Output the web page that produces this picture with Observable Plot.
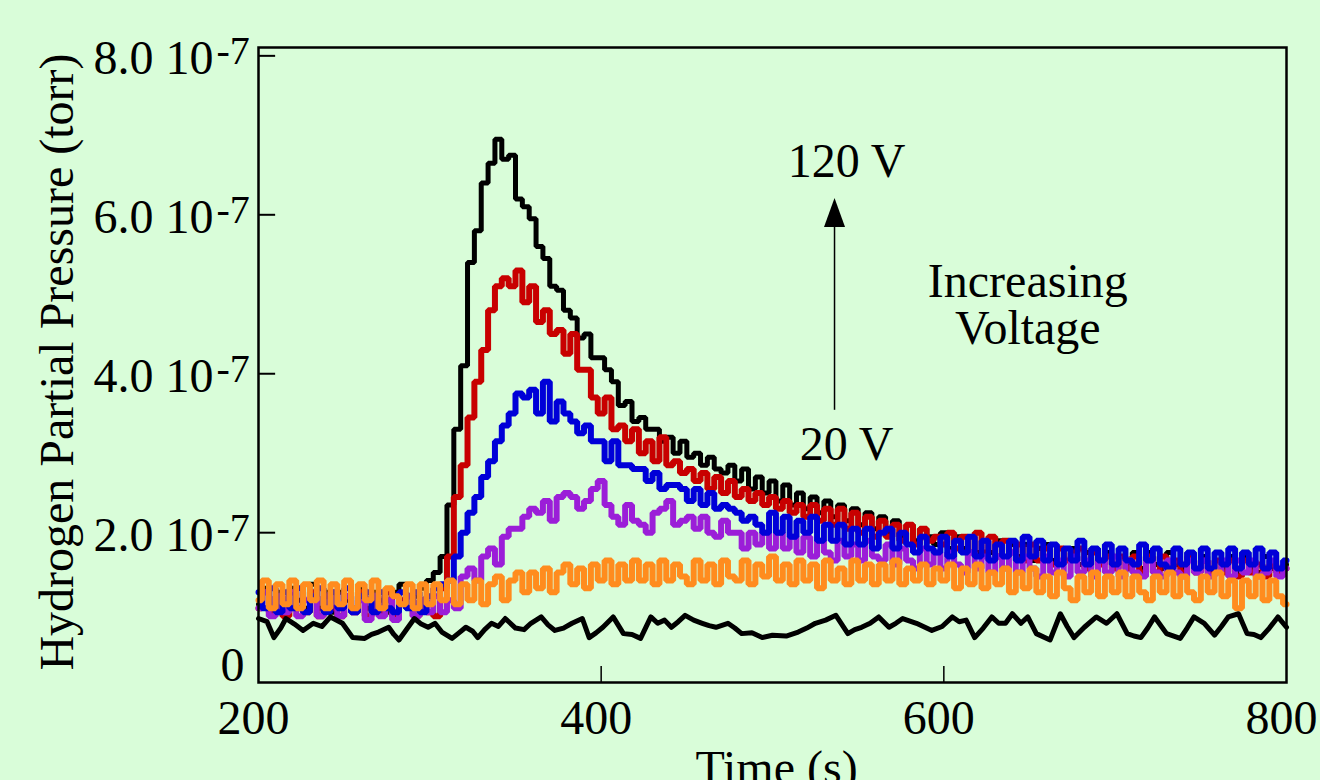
<!DOCTYPE html>
<html><head><meta charset="utf-8">
<script src="https://cdn.jsdelivr.net/npm/d3@7"></script>
<script src="https://cdn.jsdelivr.net/npm/@observablehq/plot@0.6"></script>
<style>html,body{margin:0;padding:0;background:#d9fdd9;overflow:hidden;}</style>
</head><body><div id="chart"></div>
<script>
// sample times (s) of the five voltage traces
const time = d3.range(200, 801, 4);
// values in units of 1e-7 torr
const v120 = [
1.1,1.3,1.05,1.25,1.0,1.3,1.15,1.05,1.35,1.05,
1.25,1.0,1.25,1.15,1.05,1.3,1.05,1.25,1.15,1.0,
1.25,1.35,1.05,1.2,1.3,1.4,1.5,1.7,2.35,3.3,
4.1,5.4,5.8,6.4,6.65,6.95,6.7,6.75,6.2,6.1,
5.95,5.6,5.45,5.1,5.05,4.8,4.7,4.45,4.5,4.2,
4.2,4.05,3.9,3.6,3.65,3.4,3.45,3.3,3.3,3.15,
3.2,3.0,3.15,2.95,3.0,2.85,2.95,2.8,2.75,2.85,
2.65,2.8,2.55,2.7,2.5,2.65,2.4,2.6,2.35,2.5,
2.3,2.45,2.25,2.4,2.2,2.35,2.15,2.3,2.1,2.25,
2.05,2.2,2.0,2.15,1.95,2.1,1.9,2.05,1.95,1.85,
2.0,1.8,1.95,1.8,1.95,1.75,1.9,1.75,1.9,1.7,
1.85,1.7,1.85,1.65,1.8,1.85,1.65,1.8,1.65,1.8,
1.6,1.75,1.8,1.6,1.75,1.6,1.8,1.6,1.75,1.55,
1.75,1.6,1.55,1.75,1.6,1.55,1.75,1.55,1.7,1.55,
1.75,1.55,1.7,1.5,1.7,1.55,1.5,1.7,1.55,1.5,
1.6];
const vRed = [
1.05,1.25,1.0,1.2,0.95,1.25,1.05,1.0,1.25,0.95,
1.2,1.05,0.95,1.2,1.0,1.25,0.95,1.2,1.0,1.25,
0.95,1.15,1.2,0.95,1.15,1.0,0.95,1.3,1.7,2.45,
2.85,3.45,3.9,4.3,4.8,5.1,5.2,5.1,5.3,4.9,
5.1,4.65,4.8,4.5,4.55,4.25,4.5,4.05,4.05,3.7,
3.5,3.7,3.3,3.35,3.15,3.3,3.0,3.15,2.9,3.2,
2.85,2.9,2.75,2.8,2.65,2.75,2.55,2.7,2.5,2.65,
2.45,2.55,2.4,2.5,2.35,2.45,2.3,2.4,2.25,2.35,
2.2,2.35,2.15,2.3,2.1,2.3,2.05,2.25,2.0,2.2,
1.95,2.15,1.95,2.1,1.9,2.1,1.85,2.05,1.9,1.95,
1.85,2.0,1.8,1.95,1.75,2.0,1.75,1.95,1.7,1.9,
1.75,1.85,1.65,1.85,1.65,1.8,1.6,1.8,1.65,1.75,
1.8,1.55,1.75,1.6,1.7,1.55,1.7,1.55,1.7,1.5,
1.7,1.5,1.7,1.55,1.65,1.5,1.7,1.5,1.65,1.5,
1.65,1.5,1.65,1.45,1.65,1.5,1.6,1.45,1.6,1.5,
1.55];
const vBlue = [
1.25,1.05,1.3,1.0,1.25,1.05,1.3,1.0,1.2,1.3,
1.0,1.25,1.05,1.3,1.0,1.2,1.25,1.0,1.25,1.05,
1.0,1.25,1.05,1.25,1.0,1.2,1.3,1.35,1.4,1.7,
2.0,2.25,2.45,2.7,2.9,3.15,3.35,3.5,3.75,3.7,
3.8,3.5,3.9,3.4,3.65,3.5,3.4,3.25,3.35,3.15,
3.15,2.9,3.15,2.85,2.85,2.8,2.8,2.65,2.75,2.55,
2.6,2.6,2.55,2.4,2.55,2.35,2.5,2.3,2.35,2.3,
2.25,2.15,2.2,2.1,2.0,2.25,2.0,2.2,1.95,2.15,
2.0,2.2,1.9,2.1,1.9,2.1,1.85,2.05,1.85,2.05,
1.8,2.0,2.05,1.8,2.0,1.85,1.75,1.95,1.8,1.75,
1.95,1.7,1.9,1.75,1.95,1.7,1.9,1.65,1.85,1.7,
1.9,1.65,1.95,1.7,1.9,1.65,1.85,1.6,1.8,1.65,
1.9,1.6,1.8,1.65,1.85,1.6,1.8,1.65,1.6,1.85,
1.65,1.8,1.6,1.55,1.8,1.6,1.75,1.55,1.8,1.55,
1.75,1.6,1.8,1.55,1.75,1.6,1.8,1.55,1.75,1.55,
1.65];
const vPurple = [
1.05,1.25,0.95,1.2,1.0,1.25,0.95,1.15,1.2,0.95,
1.05,1.25,0.95,1.2,1.0,1.15,0.9,1.2,0.95,1.15,
0.9,1.1,1.2,0.95,1.15,1.0,1.2,1.0,1.15,1.05,
1.45,1.55,1.4,1.7,1.8,1.6,1.95,2.05,2.05,2.2,
2.3,2.25,2.4,2.15,2.45,2.5,2.45,2.3,2.4,2.55,
2.65,2.35,2.2,2.1,2.35,2.15,2.1,2.0,2.25,2.3,
2.4,2.1,2.15,2.2,2.05,2.2,2.0,1.95,2.15,2.0,
2.0,1.8,2.0,1.85,2.0,1.8,2.0,1.8,1.95,1.75,
1.95,1.7,1.9,1.75,1.65,1.9,1.7,1.85,1.65,1.9,
1.7,1.65,1.85,1.6,1.8,1.65,1.55,1.8,1.6,1.75,
1.55,1.75,1.6,1.5,1.75,1.55,1.7,1.5,1.7,1.55,
1.75,1.5,1.7,1.55,1.45,1.7,1.5,1.65,1.45,1.7,
1.5,1.65,1.45,1.65,1.5,1.7,1.45,1.65,1.5,1.45,
1.65,1.5,1.45,1.65,1.5,1.45,1.65,1.5,1.65,1.45,
1.5,1.65,1.45,1.65,1.5,1.65,1.45,1.5,1.65,1.45,
1.55];
const vOrange = [
1.15,1.4,1.05,1.35,1.1,1.4,1.05,1.35,1.15,1.4,
1.05,1.35,1.1,1.4,1.05,1.35,1.15,1.4,1.05,1.3,
1.2,1.1,1.35,1.05,1.35,1.1,1.35,1.15,1.4,1.1,
1.35,1.15,1.4,1.1,1.35,1.45,1.15,1.4,1.5,1.25,
1.5,1.3,1.55,1.25,1.5,1.6,1.35,1.55,1.3,1.6,
1.4,1.65,1.35,1.6,1.4,1.65,1.4,1.6,1.35,1.65,
1.4,1.6,1.45,1.35,1.65,1.4,1.6,1.35,1.65,1.45,
1.4,1.65,1.35,1.6,1.45,1.7,1.4,1.6,1.35,1.65,
1.4,1.6,1.3,1.65,1.4,1.55,1.35,1.65,1.4,1.6,
1.35,1.6,1.4,1.65,1.35,1.55,1.4,1.6,1.35,1.55,
1.4,1.6,1.3,1.55,1.35,1.6,1.3,1.5,1.35,1.55,
1.25,1.5,1.3,1.55,1.25,1.45,1.2,1.5,1.3,1.15,
1.45,1.25,1.5,1.2,1.45,1.25,1.5,1.2,1.45,1.25,
1.15,1.45,1.25,1.5,1.2,1.45,1.25,1.15,1.45,1.25,
1.5,1.2,1.4,1.05,1.4,1.2,1.45,1.15,1.4,1.2,
1.1];
// background trace (no voltage)
const baseT = [200,205,209,213,216,221,226,232,237,242,249,255,262,266,270,276,279,282,287,291,295,299,303,307,313,317,321,325,328,332,336,340,344,350,355,359,365,369,373,378,383,389,393,397,401,407,413,418,423,429,433,437,441,445,449,454,459,463,467,474,478,482,488,494,500,508,515,520,525,531,537,544,548,552,557,562,568,572,576,584,593,599,605,609,613,618,623,628,632,636,640,645,649,654,662,668,672,676,682,689,695,701,707,711,715,719,723,730,738,742,746,752,758,762,766,772,777,781,785,790,795,800];
const baseV = [0.92,0.88,0.68,0.8,0.92,0.85,0.77,0.86,0.82,0.94,0.86,0.68,0.67,0.72,0.75,0.81,0.72,0.65,0.8,0.92,0.85,0.81,0.86,0.75,0.67,0.74,0.81,0.76,0.68,0.78,0.86,0.82,0.92,0.8,0.78,0.86,0.94,0.84,0.77,0.8,0.86,0.92,0.68,0.74,0.81,0.94,0.73,0.72,0.67,0.94,0.86,0.9,0.81,0.88,0.96,0.9,0.86,0.83,0.81,0.86,0.8,0.73,0.74,0.68,0.71,0.7,0.75,0.8,0.86,0.9,0.96,0.73,0.78,0.81,0.86,0.94,0.81,0.86,0.92,0.86,0.77,0.82,0.94,0.88,0.9,0.68,0.8,0.94,0.86,0.86,0.98,0.86,0.94,0.73,0.65,0.98,0.82,0.68,0.81,0.94,0.86,0.98,0.73,0.7,0.68,0.8,0.94,0.73,0.67,0.8,0.94,0.86,0.71,0.82,0.94,0.98,0.73,0.72,0.68,0.8,0.94,0.81];

const xTicks = [200, 400, 600, 800];
const yTicks = [2, 4, 6, 8];
const xTitle = "Time (s)";
const yTitle = "Hydrogen Partial Pressure (torr)";
const topLabel = "120 V";
const bottomLabel = "20 V";
const noteLabel = "Increasing\nVoltage";

const xDomain = [200, 800];
const yDomain = [0.115, 8.105];
const toRows = (ts, vs) => ts.map((t, i) => ({t, v: vs[i]}));

const FONT = "'Liberation Serif','Times New Roman',Times,serif";
const arrowHead = {draw(ctx) { ctx.moveTo(0, 0); ctx.lineTo(10.5, 29); ctx.lineTo(-10.5, 29); ctx.closePath(); }};

const traces = [
  {rows: toRows(time, v120), color: "#000000", w: 5},
  {rows: toRows(time, vRed), color: "#c80000", w: 6},
  {rows: toRows(time, vPurple), color: "#9b1ed8", w: 6},
  {rows: toRows(time, vBlue), color: "#0000d8", w: 6},
  {rows: toRows(time, vOrange), color: "#ff8c1e", w: 6}
];

const chart = Plot.plot({
  width: 1320, height: 780,
  marginLeft: 258, marginRight: 34, marginTop: 47, marginBottom: 98,
  style: {background: "#d9fdd9", fontFamily: FONT, color: "black", overflow: "visible"},
  x: {domain: xDomain, axis: null},
  y: {domain: yDomain, axis: null},
  marks: [
    ...traces.map(s => Plot.line(s.rows, {x: "t", y: "v", stroke: s.color, strokeWidth: s.w, curve: "step", strokeLinejoin: "miter"})),
    Plot.line(toRows(baseT, baseV), {x: "t", y: "v", stroke: "#000000", strokeWidth: 5, curve: "linear", strokeLinejoin: "round"}),
    Plot.frame({stroke: "black", strokeWidth: 2.5}),
    Plot.ruleX(xTicks.slice(1, -1), {y1: yDomain[0], y2: yDomain[0] + 0.2, stroke: "black", strokeWidth: 1.5}),
    Plot.ruleY(yTicks, {x1: xDomain[0], x2: xDomain[0] + 10, stroke: "black", strokeWidth: 2}),
    Plot.axisX({ticks: xTicks, tickSize: 0, tickPadding: 17, fontSize: 48, dx: -5, label: null, tickFormat: d => String(d)}),
    Plot.axisY({ticks: yTicks, tickSize: 0, tickPadding: 45, fontSize: 48, dy: 3, label: null, tickFormat: d => d.toFixed(1) + " 10"}),
    Plot.axisY({ticks: yTicks, tickSize: 0, tickPadding: 42, fontSize: 40, dy: -5, textAnchor: "start", label: null, tickFormat: () => "-7"}),
    Plot.text([{t: xDomain[0], v: yDomain[0], s: "0"}], {x: "t", y: "v", text: "s", fontSize: 48, textAnchor: "end", lineAnchor: "bottom", dx: -14, dy: -2}),
    Plot.text([yTitle], {frameAnchor: "left", rotate: -90, textAnchor: "middle", lineAnchor: "bottom", fontSize: 48, dx: -186, dy: -3}),
    Plot.text([xTitle], {frameAnchor: "bottom", textAnchor: "middle", lineAnchor: "bottom", fontSize: 48, dx: 4, dy: 101}),
    Plot.text([{t: 543.2, v: 6.47, s: topLabel}], {x: "t", y: "v", text: "s", fontSize: 48, lineAnchor: "bottom"}),
    Plot.text([{t: 543.2, v: 2.91, s: bottomLabel}], {x: "t", y: "v", text: "s", fontSize: 48, lineAnchor: "bottom"}),
    Plot.text([{t: 649, v: 4.38, s: noteLabel}], {x: "t", y: "v", text: "s", fontSize: 48, lineAnchor: "bottom", lineHeight: 0.98}),
    Plot.ruleX([{t: 536.2}], {x: "t", y1: 3.54, y2: 5.9, stroke: "black", strokeWidth: 1.5}),
    Plot.dot([{t: 536.2, v: 6.21}], {x: "t", y: "v", symbol: arrowHead, r: 10, fill: "black", stroke: "none"})
  ]
});
document.getElementById("chart").appendChild(chart);
</script>
</body></html>
